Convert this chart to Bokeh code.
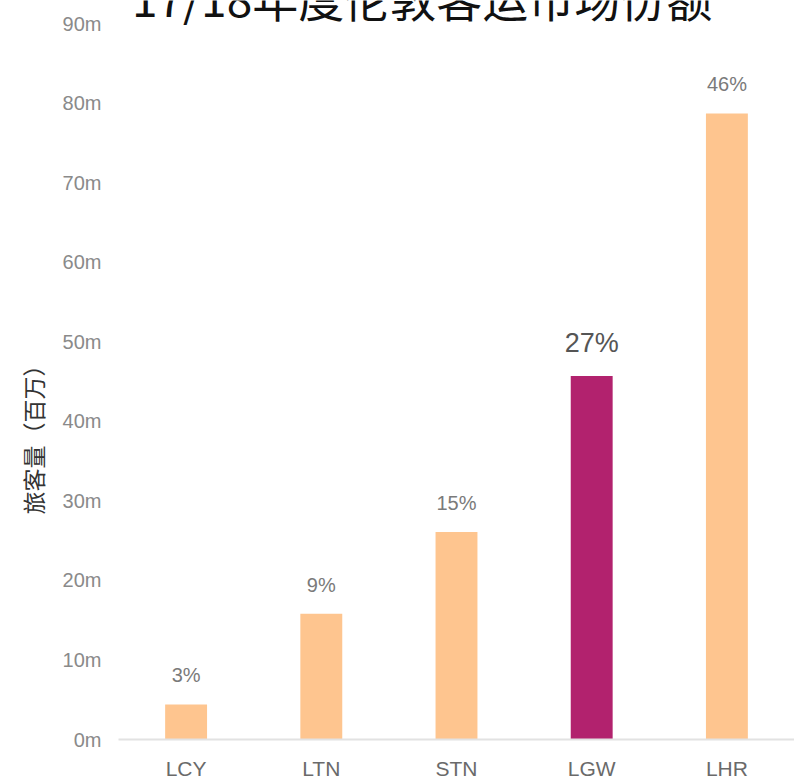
from bokeh.plotting import figure
from bokeh.models import ColumnDataSource, Label, Title, FixedTicker, PrintfTickFormatter
from bokeh.core.properties import value
from bokeh.embed import file_html
from bokeh.resources import INLINE

# ---- data ----
airports = ["LCY", "LTN", "STN", "LGW", "LHR"]
passengers_m = [4.4, 15.8, 26.1, 45.7, 78.7]
shares = ["3%", "9%", "15%", "27%", "46%"]
highlight = "LGW"
y_ticks = [0, 10, 20, 30, 40, 50, 60, 70, 80, 90]
title_text = "17/18年度伦敦客运市场份额"
y_title = "旅客量（百万）"

ORANGE = "#FEC58F"
MAGENTA = "#B2226E"

colors = [MAGENTA if a == highlight else ORANGE for a in airports]
lab_sizes = ["27px" if a == highlight else "20px" for a in airports]
lab_colors = ["#555555" if a == highlight else "#7a7a7a" for a in airports]
lab_offsets = [-33 if a == highlight else -29 for a in airports]

src = ColumnDataSource(dict(x=airports, top=passengers_m, label=shares, color=colors,
                            size=lab_sizes, lcolor=lab_colors, off=lab_offsets))

# frame spans from the canvas top down to the x-axis; 90m sits ~23px below the top
p = figure(x_range=airports, y_range=(0, 92.9), width=794, height=782,
           output_backend="svg", toolbar_location=None,
           min_border_left=118, min_border_right=0, min_border_top=0, min_border_bottom=42)
p.background_fill_color = "white"
p.border_fill_color = "white"
p.outline_line_color = None
p.xgrid.grid_line_color = None
p.ygrid.grid_line_color = None
p.x_range.range_padding = 0

p.vbar(x="x", top="top", bottom=0, width=0.31, color="color", line_color=None, source=src)

p.text(x="x", y="top", text="label", source=src, y_offset="off",
       text_align="center", text_baseline="middle",
       text_font=value("Liberation Sans"), text_font_size="size", text_color="lcolor")

# axes
p.yaxis.ticker = FixedTicker(ticks=y_ticks)
p.yaxis.formatter = PrintfTickFormatter(format="%dm")
p.yaxis.axis_line_color = None
p.yaxis.major_tick_line_color = None
p.yaxis.minor_tick_line_color = None
p.yaxis.major_tick_out = 0
p.yaxis.major_label_standoff = 17
p.yaxis.major_label_text_font = "Liberation Sans"
p.yaxis.major_label_text_font_size = "20px"
p.yaxis.major_label_text_color = "#8a8a8a"

p.xaxis.axis_line_color = "#e2e2e2"
p.xaxis.axis_line_width = 2
p.xaxis.major_tick_line_color = None
p.xaxis.minor_tick_line_color = None
p.xaxis.major_tick_out = 0
p.xaxis.major_label_standoff = 17
p.xaxis.major_label_text_font = "Liberation Sans"
p.xaxis.major_label_text_font_size = "21px"
p.xaxis.major_label_text_color = "#6a6a6a"

# main title (partly cut off at the top edge, as in the reference)
p.add_layout(Label(x=0.1, y=93.4, text=title_text,
                   text_font="Noto Sans CJK SC", text_font_size="46px",
                   text_color="#111111", text_align="left", text_baseline="alphabetic"))

# y-axis title, placed below the frame centre as in the reference
p.add_layout(Title(text=y_title, align="left", offset=225, standoff=20,
                   text_font="Noto Sans CJK SC", text_font_size="23px",
                   text_font_style="normal", text_color="#333333"), "left")

open("out.html", "w").write(file_html(p, INLINE))
